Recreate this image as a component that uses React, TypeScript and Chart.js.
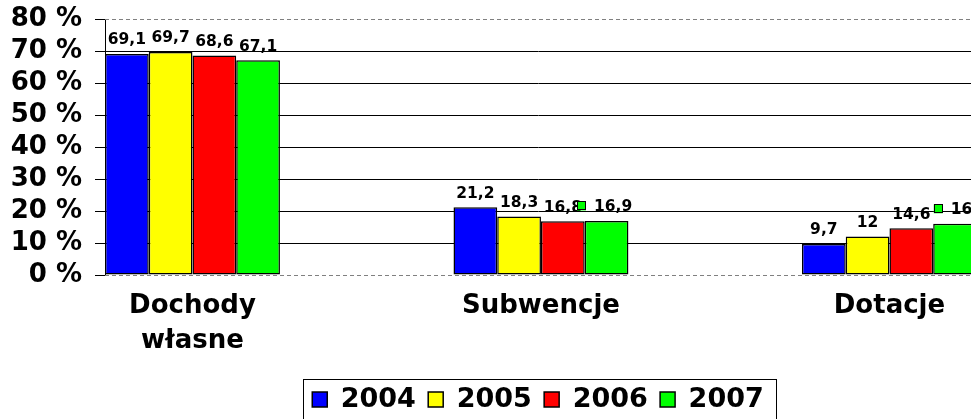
import React, { useEffect, useRef } from 'react';
import { Chart, registerables } from 'chart.js';

Chart.register(...registerables);

const categories: (string | string[])[] = [['Dochody', 'własne'], 'Subwencje', 'Dotacje'];
const years = ['2004', '2005', '2006', '2007'];
const values2004 = [69.1, 21.2, 9.7];
const values2005 = [69.7, 18.3, 12];
const values2006 = [68.6, 16.8, 14.6];
const values2007 = [67.1, 16.9, 16];
const seriesValues = [values2004, values2005, values2006, values2007];
const seriesColors = ['#0000FF', '#FFFF00', '#FF0000', '#00FF00'];
const yTickValues = [0, 10, 20, 30, 40, 50, 60, 70, 80];

const FONT = '"DejaVu Sans", Verdana, sans-serif';

const fmt = (v: number) => String(v).replace('.', ',');

const plotBorderPlugin = {
  id: 'plotBorder',
  afterDatasetsDraw(chart: any) {
    const { ctx, chartArea } = chart;
    ctx.save();
    ctx.strokeStyle = '#808080';
    ctx.lineWidth = 1;
    ctx.setLineDash([4, 3]);
    ctx.beginPath();
    ctx.moveTo(chartArea.left, Math.round(chartArea.top) + 0.5);
    ctx.lineTo(chartArea.right, Math.round(chartArea.top) + 0.5);
    ctx.moveTo(chartArea.left, Math.round(chartArea.bottom) + 0.5);
    ctx.lineTo(chartArea.right, Math.round(chartArea.bottom) + 0.5);
    ctx.stroke();
    ctx.restore();
  },
};

const dataLabelPlugin = {
  id: 'dataLabels',
  afterDatasetsDraw(chart: any) {
    const { ctx } = chart;
    ctx.save();
    ctx.font = `bold 15.5px ${FONT}`;
    ctx.fillStyle = '#000';
    ctx.textBaseline = 'alphabetic';
    chart.data.datasets.forEach((ds: any, di: number) => {
      const meta = chart.getDatasetMeta(di);
      meta.data.forEach((el: any, i: number) => {
        const v = seriesValues[di][i];
        const text = fmt(v);
        const tw = ctx.measureText(text).width;
        const baseY = el.y - 9.5;
        const withKey = di === 3 && i > 0;
        if (withKey) {
          const keyW = 9;
          const gap = 8;
          const total = keyW + gap + tw;
          const start = el.x - total / 2 - 2;
          ctx.fillStyle = seriesColors[di];
          ctx.fillRect(start, baseY - 10, keyW, keyW);
          ctx.strokeStyle = '#000';
          ctx.lineWidth = 1;
          ctx.strokeRect(Math.round(start) + 0.5, Math.round(baseY - 10) + 0.5, keyW - 1, keyW - 1);
          ctx.fillStyle = '#000';
          ctx.textAlign = 'left';
          ctx.fillText(text, start + keyW + gap, baseY);
        } else {
          ctx.textAlign = 'center';
          ctx.fillText(text, el.x, baseY);
        }
      });
    });
    ctx.restore();
  },
};

const legendBorderPlugin = {
  id: 'legendBorder',
  afterDraw(chart: any) {
    const lg = chart.legend;
    if (!lg || !lg.legendHitBoxes || !lg.legendHitBoxes.length) return;
    const hb = lg.legendHitBoxes;
    const first = hb[0];
    const last = hb[hb.length - 1];
    const left = Math.round(first.left - 9) + 0.5;
    const right = Math.round(last.left + last.width + 12) + 0.5;
    const top = Math.round(first.top + first.height / 2 - 21) + 0.5;
    const { ctx } = chart;
    ctx.save();
    ctx.strokeStyle = '#000';
    ctx.lineWidth = 1;
    ctx.strokeRect(left, top, right - left, chart.height + 10 - top);
    ctx.restore();
  },
};

export default function App() {
  const canvasRef = useRef<HTMLCanvasElement | null>(null);

  useEffect(() => {
    const canvas = canvasRef.current;
    if (!canvas) return;
    Chart.defaults.color = '#000';
    const chart = new Chart(canvas, {
      type: 'bar',
      data: {
        datasets: years.map((y, di) => ({
          label: y,
          data: seriesValues[di].map((v, i) => ({ x: i, y: v })),
          backgroundColor: seriesColors[di],
          borderColor: '#000',
          borderWidth: 1.5,
          borderSkipped: false,
          categoryPercentage: 0.502,
          barPercentage: 1,
        })),
      },
      options: {
        responsive: false,
        animation: false,
        devicePixelRatio: 1,
        layout: { padding: { top: 19, left: 0, right: 0, bottom: 0 } },
        plugins: {
          tooltip: { enabled: false },
          legend: {
            position: 'bottom',
            fullSize: false,
            labels: {
              boxWidth: 15,
              boxHeight: 15,
              padding: 12.3,
              color: '#000',
              font: { family: FONT, size: 27, weight: 'bold' },
            },
          },
        },
        scales: {
          x: {
            type: 'linear',
            min: -0.251,
            max: 2.234,
            offset: false,
            grid: { display: false, drawTicks: false, offset: false },
            border: { display: false },
            afterBuildTicks: (s: any) => {
              s.ticks = categories.map((_, i) => ({ value: i }));
            },
            afterFit: (s: any) => {
              s.height = 98.7;
              s.paddingLeft = 0;
              s.paddingRight = 0;
            },
            ticks: {
              autoSkip: false,
              maxRotation: 0,
              padding: 14,
              color: '#000',
              font: { family: FONT, size: 26, weight: 'bold', lineHeight: 1.35 },
              callback: (v: any) => categories[v as number] ?? '',
            },
          },
          y: {
            min: 0,
            max: 80,
            afterBuildTicks: (s: any) => {
              s.ticks = yTickValues.map((v) => ({ value: v }));
            },
            afterFit: (s: any) => {
              s.width = 105;
              s.paddingTop = 0;
              s.paddingBottom = 0;
            },
            border: { display: true, color: '#000', width: 1 },
            grid: {
              color: (c: any) => (c.tick && (c.tick.value === 0 || c.tick.value === 80) ? 'rgba(0,0,0,0)' : '#000'),
              tickColor: '#000',
              tickLength: 10,
              lineWidth: 1,
            },
            ticks: {
              autoSkip: false,
              padding: 13,
              color: '#000',
              font: { family: FONT, size: 26, weight: 'bold' },
              callback: (v: any) => `${v} %`,
            },
          },
        },
      },
      plugins: [plotBorderPlugin, dataLabelPlugin, legendBorderPlugin],
    } as any);
    return () => chart.destroy();
  }, []);

  return (
    <div style={{ position: 'fixed', left: 0, top: 0, width: 971, height: 419, overflow: 'hidden', background: '#fff' }}>
      <canvas ref={canvasRef} width={971} height={423} style={{ display: 'block' }} />
    </div>
  );
}
